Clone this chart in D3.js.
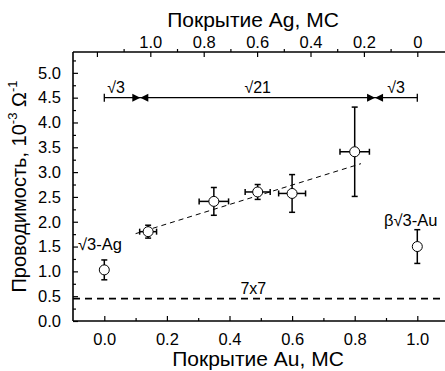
<!DOCTYPE html>
<html>
<head>
<meta charset="utf-8">
<script src="https://cdn.jsdelivr.net/npm/d3@7"></script>
<style>
body { margin: 0; background: white; }
text { font-family: "Liberation Sans", Arial, sans-serif; fill: #000; }
</style>
</head>
<body>
<div id="chart"></div>
<script>
// данные
let auCov = [0.0, 0.14, 0.35, 0.49, 0.60, 0.80, 1.0]
let sigma = [1.03, 1.80, 2.41, 2.60, 2.57, 3.41, 1.50]
let sigmaErr = [0.20, 0.13, 0.28, 0.15, 0.38, 0.90, 0.34]
let auErr = [0, 0.027, 0.047, 0.04, 0.043, 0.047, 0]
let fitLine = [[0.10, 1.76], [0.82, 3.17]]
let level7x7 = 0.45
let phaseBounds = [0.0, 0.115, 0.865, 1.0]
let phaseNames = ["√3", "√21", "√3"]
let xTicks = [0.0, 0.2, 0.4, 0.6, 0.8, 1.0]
let yTicks = [0.0, 0.5, 1.0, 1.5, 2.0, 2.5, 3.0, 3.5, 4.0, 4.5, 5.0]
let agTicks = [0, 0.2, 0.4, 0.6, 0.8, 1.0, 1.2]
let agMinor = [0.1, 0.3, 0.5, 0.7, 0.9, 1.1]

let W = 445, H = 371
let mLeft = 73, mTop = 52, mBottom = 321
let svg = d3.select("#chart").append("svg")
    .attr("width", W).attr("height", H)

let x = d3.scaleLinear().domain([-0.1, 1.1]).range([mLeft, mLeft + 1.2 * 313])
let y = d3.scaleLinear().domain([0, 5.42]).range([mBottom, mTop])
// Ag покрытие: 0 -> Au 1.0, 1.0 -> Au 0.147
let ag = d3.scaleLinear().domain([0, 1]).range([x(1.0), x(0.147)])

// оси
let g = svg.append("g")
g.append("g").attr("transform", `translate(0,${mBottom})`)
    .call(d3.axisBottom(x).tickValues([0.1, 0.3, 0.5, 0.7, 0.9]).tickSize(-3).tickFormat(""))
g.append("g").attr("transform", `translate(0,${mBottom})`)
    .call(d3.axisBottom(x).tickValues(xTicks).tickSize(-5).tickPadding(12).tickFormat(d3.format(".1f")))
g.append("g").attr("transform", `translate(${mLeft},0)`)
    .call(d3.axisLeft(y).tickValues(d3.range(0.25, 5.4, 0.5)).tickSize(-3).tickFormat(""))
g.append("g").attr("transform", `translate(${mLeft},0)`)
    .call(d3.axisLeft(y).tickValues(yTicks).tickSize(-5).tickPadding(12).tickFormat(d3.format(".1f")))
g.append("g").attr("transform", `translate(0,${mTop})`)
    .call(d3.axisTop(ag).tickValues(agTicks).tickSize(-5).tickPadding(4)
        .tickFormat(d => d === 0 ? "0" : d > 1.1 ? "" : d3.format(".1f")(d)))
g.append("g").attr("transform", `translate(0,${mTop})`)
    .call(d3.axisTop(ag).tickValues(agMinor).tickSize(3).tickFormat(""))
g.selectAll(".domain").remove()
g.selectAll(".tick line").attr("stroke", "#000").attr("stroke-width", 1.2)
g.selectAll(".tick text").style("font-size", "16.5px")
svg.append("line").attr("x1", mLeft).attr("x2", W).attr("y1", mBottom).attr("y2", mBottom).attr("stroke", "#000").attr("stroke-width", 1.6)
svg.append("line").attr("x1", mLeft).attr("x2", W).attr("y1", mTop).attr("y2", mTop).attr("stroke", "#000").attr("stroke-width", 1.6)
svg.append("line").attr("x1", mLeft).attr("x2", mLeft).attr("y1", mTop).attr("y2", mBottom).attr("stroke", "#000").attr("stroke-width", 1.6)

// подписи осей
svg.append("text").attr("x", 253).attr("y", 27).attr("text-anchor", "middle")
    .style("font-size", "21px").text("Покрытие Ag, МС")
svg.append("text").attr("x", 258).attr("y", 366).attr("text-anchor", "middle")
    .style("font-size", "21px").text("Покрытие Au, МС")
let yl = svg.append("text").attr("transform", `translate(26,${(mTop + mBottom) / 2}) rotate(-90)`)
    .attr("text-anchor", "middle").style("font-size", "20px")
yl.append("tspan").text("Проводимость, 10")
yl.append("tspan").attr("dy", -9).style("font-size", "13px").text("-3")
yl.append("tspan").attr("dy", 9).text(" Ω")
yl.append("tspan").attr("dy", -9).style("font-size", "13px").text("-1")

// 7x7
svg.append("line").attr("x1", mLeft).attr("x2", W)
    .attr("y1", y(level7x7)).attr("y2", y(level7x7))
    .attr("stroke", "#000").attr("stroke-width", 1.8).attr("stroke-dasharray", "7,5")
svg.append("text").attr("x", x(0.476)).attr("y", y(level7x7) - 5).attr("text-anchor", "middle")
    .style("font-size", "16px").text("7x7")

// линия аппроксимации
svg.append("line").attr("x1", x(fitLine[0][0])).attr("y1", y(fitLine[0][1]))
    .attr("x2", x(fitLine[1][0])).attr("y2", y(fitLine[1][1]))
    .attr("stroke", "#000").attr("stroke-width", 1).attr("stroke-dasharray", "5,4")

// фазы
let py = y(4.5)
svg.append("line").attr("x1", x(phaseBounds[0])).attr("x2", x(phaseBounds[3]))
    .attr("y1", py).attr("y2", py).attr("stroke", "#000").attr("stroke-width", 1.3)
;[phaseBounds[0], phaseBounds[3]].forEach(v => {
    svg.append("line").attr("x1", x(v)).attr("x2", x(v)).attr("y1", py - 4).attr("y2", py + 4)
        .attr("stroke", "#000").attr("stroke-width", 1.3)
})
;[phaseBounds[1], phaseBounds[2]].forEach(v => {
    let cx = x(v)
    svg.append("path").attr("d", `M${cx},${py} l-8,-4 l0,8 z`).attr("fill", "#000")
    svg.append("path").attr("d", `M${cx},${py} l8,-4 l0,8 z`).attr("fill", "#000")
})
svg.append("text").attr("x", x(phaseBounds[0]) + 3).attr("y", py - 5).style("font-size", "16px").text(phaseNames[0])
svg.append("text").attr("x", x((phaseBounds[1] + phaseBounds[2]) / 2)).attr("y", py - 5)
    .attr("text-anchor", "middle").style("font-size", "16px").text(phaseNames[1])
svg.append("text").attr("x", x((phaseBounds[2] + phaseBounds[3]) / 2)).attr("y", py - 5)
    .attr("text-anchor", "middle").style("font-size", "16px").text(phaseNames[2])

// точки с погрешностями
let data = auCov.map((d, i) => ({ x: d, y: sigma[i], ey: sigmaErr[i], ex: auErr[i] }))
let pts = svg.append("g").selectAll("g").data(data).join("g")
pts.append("line").attr("x1", d => x(d.x)).attr("x2", d => x(d.x))
    .attr("y1", d => y(d.y - d.ey)).attr("y2", d => y(d.y + d.ey)).attr("stroke", "#000").attr("stroke-width", 1.5)
pts.append("line").attr("x1", d => x(d.x) - 3).attr("x2", d => x(d.x) + 3)
    .attr("y1", d => y(d.y + d.ey)).attr("y2", d => y(d.y + d.ey)).attr("stroke", "#000").attr("stroke-width", 1.5)
pts.append("line").attr("x1", d => x(d.x) - 3).attr("x2", d => x(d.x) + 3)
    .attr("y1", d => y(d.y - d.ey)).attr("y2", d => y(d.y - d.ey)).attr("stroke", "#000").attr("stroke-width", 1.5)
let hx = pts.filter(d => d.ex > 0)
hx.append("line").attr("x1", d => x(d.x - d.ex)).attr("x2", d => x(d.x + d.ex))
    .attr("y1", d => y(d.y)).attr("y2", d => y(d.y)).attr("stroke", "#000").attr("stroke-width", 1.5)
hx.append("line").attr("x1", d => x(d.x - d.ex)).attr("x2", d => x(d.x - d.ex))
    .attr("y1", d => y(d.y) - 3).attr("y2", d => y(d.y) + 3).attr("stroke", "#000").attr("stroke-width", 1.5)
hx.append("line").attr("x1", d => x(d.x + d.ex)).attr("x2", d => x(d.x + d.ex))
    .attr("y1", d => y(d.y) - 3).attr("y2", d => y(d.y) + 3).attr("stroke", "#000").attr("stroke-width", 1.5)
pts.append("circle").attr("cx", d => x(d.x)).attr("cy", d => y(d.y)).attr("r", 5)
    .attr("fill", "white").attr("stroke", "#000").attr("stroke-width", 1)

// подписи фаз у точек
svg.append("text").attr("x", 78).attr("y", y(1.43)).style("font-size", "16.5px").text("√3-Ag")
svg.append("text").attr("x", 384).attr("y", y(1.92)).style("font-size", "16.5px").text("β√3-Au")
</script>
</body>
</html>
